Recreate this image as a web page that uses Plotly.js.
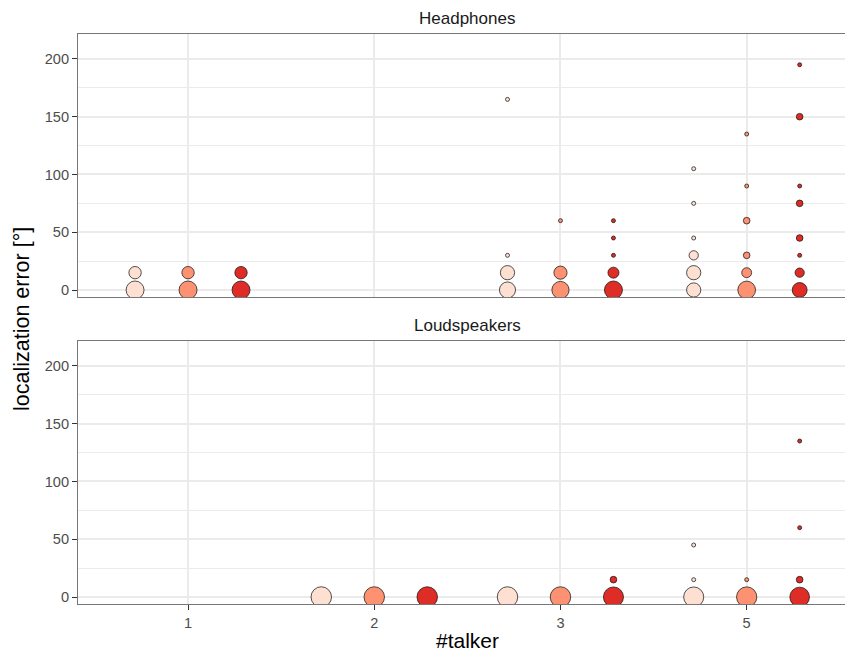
<!DOCTYPE html>
<html>
<head>
<meta charset="utf-8">
<script src="https://cdn.plot.ly/plotly-3.0.1.min.js"></script>
<style>html,body{margin:0;padding:0;background:#fff;overflow:hidden;}</style>
</head>
<body>
<div id="chart" style="width:845px;height:651px;"></div>
<script>
// ---- data ----
const talkerCategories = ['1', '2', '3', '5'];
const panelNames = ['Headphones', 'Loudspeakers'];
const groupNames = ['group 1', 'group 2', 'group 3'];
const groupColors = ['#FEE0D2', '#FC9272', '#DE2D26'];

// Headphones
const hpX1 = ['1','1','3','3','3','3','5','5','5','5','5','5'];
const hpY1 = [0, 15, 0, 15, 30, 165, 0, 15, 30, 45, 75, 105];
const hpN1 = [29, 11, 22, 16, 1, 1, 16, 16, 5, 1, 1, 1];

const hpX2 = ['1','1','3','3','3','5','5','5','5','5','5'];
const hpY2 = [0, 15, 0, 15, 60, 0, 15, 30, 60, 90, 135];
const hpN2 = [29, 11, 26, 13, 1, 28, 6, 2, 2, 1, 1];

const hpX3 = ['1','1','3','3','3','3','3','5','5','5','5','5','5','5','5'];
const hpY3 = [0, 15, 0, 15, 30, 45, 60, 0, 15, 30, 45, 75, 90, 150, 195];
const hpN3 = [29, 11, 29, 8, 1, 1, 1, 18, 5, 1, 2, 2, 1, 2, 1];

// Loudspeakers
const lsX1 = ['2','3','5','5','5'];
const lsY1 = [0, 0, 0, 15, 45];
const lsN1 = [40, 40, 38, 1, 1];

const lsX2 = ['2','3','5','5'];
const lsY2 = [0, 0, 0, 15];
const lsN2 = [40, 40, 39, 1];

const lsX3 = ['2','3','3','5','5','5','5'];
const lsY3 = [0, 0, 15, 0, 15, 60, 135];
const lsN3 = [40, 38, 2, 36, 2, 1, 1];

const yTickVals = [0, 50, 100, 150, 200];

// ---- size scale (area-like, as ggplot scale_size) ----
const allN = [].concat(hpN1, hpN2, hpN3, lsN1, lsN2, lsN3);
const nMin = Math.min(...allN), nMax = Math.max(...allN);
const dMin = 4, dMax = 20.5;
function sizeScale(n) {
  return n.map(v => dMin + (dMax - dMin) * Math.sqrt((v - nMin) / (nMax - nMin)));
}

const panels = [
  {xs: [lsX1, lsX2, lsX3], ys: [lsY1, lsY2, lsY3], ns: [lsN1, lsN2, lsN3], xa: 'x', ya: 'y'},
  {xs: [hpX1, hpX2, hpX3], ys: [hpY1, hpY2, hpY3], ns: [hpN1, hpN2, hpN3], xa: 'x2', ya: 'y2'}
];

const traces = [];
panels.forEach(p => {
  for (let g = 0; g < 3; g++) {
    traces.push({
      type: 'scatter', mode: 'markers',
      x: p.xs[g], y: p.ys[g], name: groupNames[g],
      xaxis: p.xa, yaxis: p.ya,
      offsetgroup: groupNames[g],
      marker: {size: sizeScale(p.ns[g]), color: groupColors[g], opacity: 1,
               line: {color: 'rgba(15,15,15,0.9)', width: 0.8}},
      cliponaxis: true, showlegend: false, hoverinfo: 'skip'
    });
  }
});

const font = '"Liberation Sans", Arial, sans-serif';
const gridC = '#EBEBEB';
const borderC = '#777777';
function xAxis(extra) {
  return Object.assign({
    type: 'category', categoryorder: 'array', categoryarray: talkerCategories,
    range: [-0.591, 3.528], showgrid: true, gridcolor: gridC, gridwidth: 2,
    showline: true, linecolor: borderC, linewidth: 1, mirror: true,
    zeroline: false, fixedrange: true
  }, extra);
}
function yAxis(extra) {
  return Object.assign({
    range: [-6.06, 221.6], tickvals: yTickVals, ticktext: yTickVals.map(String),
    showgrid: true, gridcolor: gridC, gridwidth: 2,
    minor: {dtick: 25, tick0: 0, showgrid: true, gridcolor: gridC, gridwidth: 1, ticks: ''},
    ticks: 'outside', ticklen: 5, tickwidth: 1, tickcolor: '#333333',
    tickfont: {family: font, size: 14.6, color: '#4D4D4D'},
    showline: true, linecolor: borderC, linewidth: 1, mirror: false,
    zeroline: false, fixedrange: true
  }, extra);
}

const layout = {
  width: 845, height: 651,
  margin: {l: 78, r: 0, t: 34, b: 47, pad: 0},
  paper_bgcolor: '#fff', plot_bgcolor: '#fff',
  font: {family: font},
  scattermode: 'group', scattergap: 0.1465,
  xaxis: xAxis({anchor: 'y', domain: [0, 1], ticks: 'outside', ticklen: 5, tickwidth: 1,
                tickcolor: '#333333', tickfont: {family: font, size: 14.6, color: '#4D4D4D'}}),
  xaxis2: xAxis({anchor: 'y2', domain: [0, 1], matches: 'x', showticklabels: false, ticks: ''}),
  yaxis: yAxis({domain: [0, 0.4614], anchor: 'x'}),
  yaxis2: yAxis({domain: [0.5386, 1], anchor: 'x2'}),
  annotations: [
    {text: panelNames[0], xref: 'x2', yref: 'paper', x: 1.5, y: 1, yshift: 16,
     xanchor: 'center', yanchor: 'middle', showarrow: false,
     font: {family: font, size: 17, color: '#1A1A1A'}},
    {text: panelNames[1], xref: 'x', yref: 'paper', x: 1.5, y: 0.4614, yshift: 16,
     xanchor: 'center', yanchor: 'middle', showarrow: false,
     font: {family: font, size: 17, color: '#1A1A1A'}},
    {text: 'localization error [°]', xref: 'paper', yref: 'paper', x: 0, y: 0.5, xshift: -56,
     textangle: -90, xanchor: 'center', yanchor: 'middle', showarrow: false,
     font: {family: font, size: 21.5, color: '#000'}},
    {text: '#talker', xref: 'x', yref: 'paper', x: 1.5, y: 0, yshift: -36,
     xanchor: 'center', yanchor: 'middle', showarrow: false,
     font: {family: font, size: 21, color: '#000'}}
  ]
};

Plotly.newPlot('chart', traces, layout, {staticPlot: true, displayModeBar: false});
</script>
</body>
</html>
